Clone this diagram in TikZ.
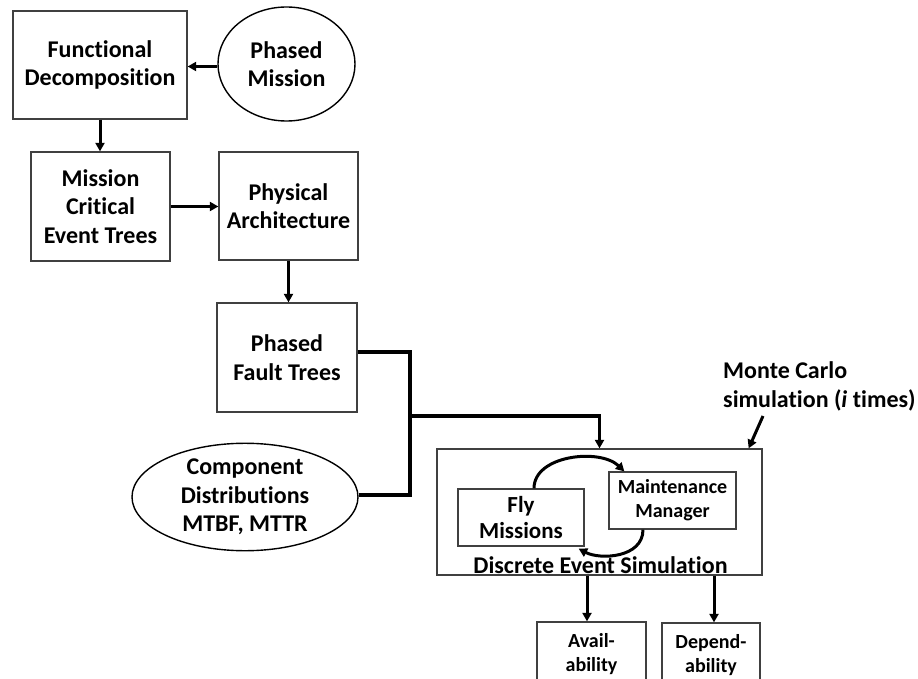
\documentclass[tikz,border=0pt]{standalone}
\usepackage{fontspec}
\setmainfont{Carlito}[Ligatures=NoCommon]
\usetikzlibrary{shapes.geometric,arrows.meta}
\begin{document}
\begin{tikzpicture}[x=1pt,y=-1pt,
  font=\bfseries\fontsize{24}{28.5}\selectfont,
  box/.style={draw=black!75,line width=1.3pt,rectangle,align=center,inner sep=0pt},
  oval/.style={draw=black,line width=1.4pt,ellipse,align=center,inner sep=0pt},
  arr/.style={line width=3pt,-{Triangle[length=8.5pt,width=9pt]}},
  bus/.style={line width=3.6pt},
  smalltext/.style={font=\bfseries\fontsize{20}{24}\selectfont}]
\useasboundingbox (0,0) rectangle (918,679);

% upper chain
\node[box,minimum width=174pt,minimum height=108pt] (fd) at (100,65) {Functional\\Decomposition};
\node[oval,minimum width=137pt,minimum height=114pt] (pm) at (286.5,64) {Phased\\Mission};
\node[box,minimum width=139pt,minimum height=109pt] (mcet) at (100.5,206.5) {Mission\\Critical\\Event Trees};
\node[box,minimum width=139pt,minimum height=108pt] (pa) at (288.5,206) {Physical\\Architecture};
\node[box,minimum width=140pt,minimum height=109pt] (pft) at (287,357.5) {Phased\\Fault Trees};
\node[oval,minimum width=226pt,minimum height=102pt] (cd) at (245,497) {Component\\Distributions\\MTBF, MTTR};

% simulation block
\node[box,minimum width=325pt,minimum height=126pt] (des) at (599.5,512) {};
\node[anchor=base,inner sep=0pt] (destxt) at (600.5,573) {Discrete Event Simulation};
\node[box,minimum width=126pt,minimum height=57pt,font=\bfseries\fontsize{23}{26}\selectfont] (fly) at (521,517.5) {Fly\\Missions};
\node[box,minimum width=127pt,minimum height=57pt,smalltext] (mm) at (672.5,500.5) {Maintenance\\Manager};
\node[anchor=west,align=left,inner sep=0pt,font=\bfseries\fontsize{24}{29}\selectfont] (mc) at (723,386) {Monte Carlo\\simulation ({\itshape i} times)};

% results
\node[box,minimum width=109pt,minimum height=65pt,smalltext] (av) at (591.5,654.5) {Avail-\\ability};
\node[box,minimum width=98pt,minimum height=64pt,smalltext] (dep) at (711,655) {Depend-\\ability};

% connectors
\draw[arr] ([yshift=-2.5pt]pm.west) -- ([yshift=-2.5pt]pm.west -| fd.east);
\draw[arr] (fd.south) -- (fd.south |- mcet.north);
\draw[arr] (mcet.east) -- (mcet.east -| pa.west);
\draw[arr] (pa.south) -- (pa.south |- pft.north);

\coordinate (join) at (410,416);
\draw[bus] ([yshift=5.5pt]pft.east) -| (join) |- ([yshift=2pt]cd.east);
\draw[bus,-{Triangle[length=8.5pt,width=9pt]}] (join) -| (des.north);

\coordinate (mctail) at (763,416);
\draw[arr] (mctail) -- ([xshift=-14pt]des.north east);

\draw[arr] ([xshift=13pt]fly.north) .. controls (534,455) and (600,448) .. ([xshift=16pt]mm.north west);
\draw[arr] ([xshift=-29.5pt]mm.south) .. controls (643,558) and (600,560) .. ([xshift=-6pt,yshift=-2pt]fly.south east);

\draw[arr] ([xshift=-4.5pt]av.north |- des.south) -- ([xshift=-4.5pt]av.north);
\draw[arr] ([xshift=3pt]dep.north |- des.south) -- ([xshift=3pt]dep.north);
\end{tikzpicture}
\end{document}
